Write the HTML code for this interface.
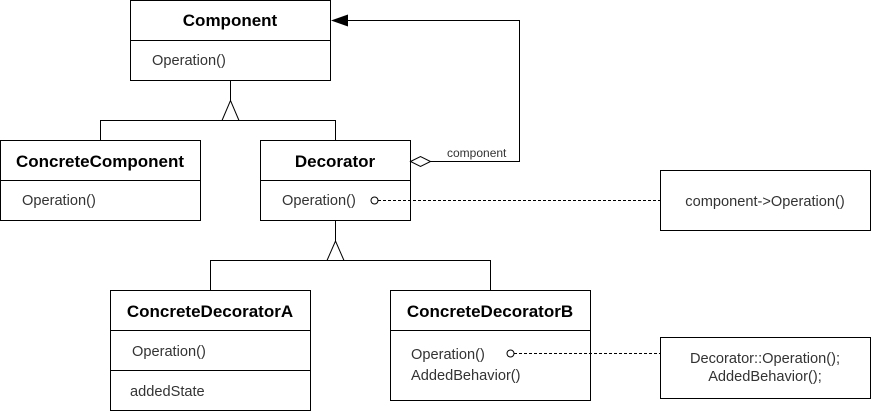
<!DOCTYPE html>
<html><head><style>body{margin:0;background:#fff}svg{display:block}</style></head><body>
<svg width="871" height="412" xmlns="http://www.w3.org/2000/svg" font-family="Liberation Sans, sans-serif" font-size="14.6" fill="#333">
<g fill="#fff" stroke="#000" stroke-width="1">
<rect x="130.5" y="0.5" width="200" height="80"/>
<rect x="0.5" y="140.5" width="200" height="80"/>
<rect x="260.5" y="140.5" width="150" height="80"/>
<rect x="110.5" y="290.5" width="200" height="120"/>
<rect x="390.5" y="290.5" width="200" height="110"/>
<rect x="660.5" y="170.5" width="210" height="60"/>
<rect x="660.5" y="337.5" width="210" height="61"/>
</g>
<g stroke="#000" fill="none">
<path d="M130.5 40.5H330.5M0.5 180.5H200.5M260.5 180.5H410.5M110.5 330.5H310.5M110.5 370.5H310.5M390.5 330.5H590.5"/>
<path d="M230.5 80.5V100.5M222 120.5L230.5 100.5L239 120.5M100.5 140V120.5H335.5V140"/>
<path d="M335.5 220.5V241M327 260.5L335.5 241L344 260.5M210.5 290V260.5H490.5V290"/>
<path d="M430.5 161.5H519.5V20.5H348"/>
<path d="M410.5 161.5L420.5 156.5L430.5 161.5L420.5 166.5Z" fill="#fff"/>
<path d="M378 200.5H660M514 353.5H660" stroke-dasharray="3,2"/>
<circle cx="374.5" cy="200.5" r="3.5" fill="#fff"/>
<circle cx="510.5" cy="353.5" r="3.5" fill="#fff"/>
</g>
<path d="M331 20.5L348 14.5V26.5Z" fill="#000"/>
<g font-weight="bold" fill="#000" font-size="17" text-anchor="middle">
<text x="230" y="26">Component</text>
<text x="100" y="167">ConcreteComponent</text>
<text x="335" y="167">Decorator</text>
<text x="210" y="317">ConcreteDecoratorA</text>
<text x="490" y="317">ConcreteDecoratorB</text>
</g>
<text x="152" y="65">Operation()</text>
<text x="22" y="205">Operation()</text>
<text x="282" y="205">Operation()</text>
<text x="132" y="356">Operation()</text>
<text x="130" y="396">addedState</text>
<text x="411" y="359">Operation()</text>
<text x="411" y="380">AddedBehavior()</text>
<text x="447" y="157" font-size="12">component</text>
<text x="765" y="206" text-anchor="middle">component-&gt;Operation()</text>
<text x="765" y="363" text-anchor="middle">Decorator::Operation();</text>
<text x="765" y="381" text-anchor="middle">AddedBehavior();</text>
</svg>
</body></html>
